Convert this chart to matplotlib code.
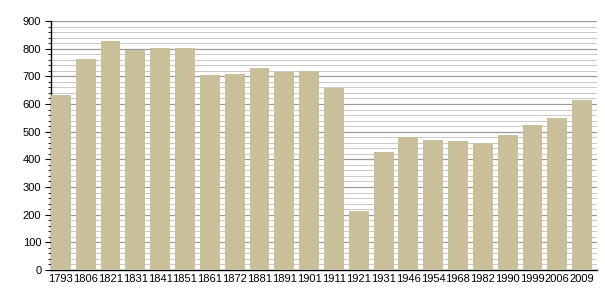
import matplotlib.pyplot as plt
from matplotlib.ticker import MultipleLocator

years = ['1793', '1806', '1821', '1831', '1841', '1851', '1861', '1872', '1881', '1891',
         '1901', '1911', '1921', '1931', '1946', '1954', '1968', '1982', '1990', '1999',
         '2006', '2009']
population = [633, 761, 828, 795, 801, 801, 705, 708, 730, 717,
              719, 659, 213, 426, 481, 470, 466, 458, 488, 524,
              550, 614]

plt.rcParams['font.family'] = ['Liberation Sans', 'DejaVu Sans']

fig = plt.figure(figsize=(6.05, 3.0), dpi=100)
ax = fig.add_axes([0.0843, 0.1, 0.9025, 0.83])

x = list(range(len(years)))
ax.bar(x, population, width=0.8, align='edge', color='#c9bf98', zorder=3)

ax.set_xlim(0, len(years))
ax.set_ylim(0, 900)
ax.set_xticks([i + 0.4 for i in x])
ax.set_xticklabels(years, fontsize=8)
ax.tick_params(axis='x', length=0, pad=3)

ax.yaxis.set_major_locator(MultipleLocator(100))
ax.yaxis.set_minor_locator(MultipleLocator(20))
ax.tick_params(axis='y', which='major', length=4, width=0.8, labelsize=8, pad=3)
ax.tick_params(axis='y', which='minor', length=2, width=0.6)

ax.grid(axis='y', which='major', color='#9a9a9a', linewidth=0.9, zorder=0)
ax.grid(axis='y', which='minor', color='#c8c8c8', linewidth=0.7, zorder=0)

for side in ('top', 'right'):
    ax.spines[side].set_visible(False)
ax.spines['left'].set_linewidth(1.0)
ax.spines['bottom'].set_linewidth(1.0)

fig.savefig('out.png', dpi=100)
